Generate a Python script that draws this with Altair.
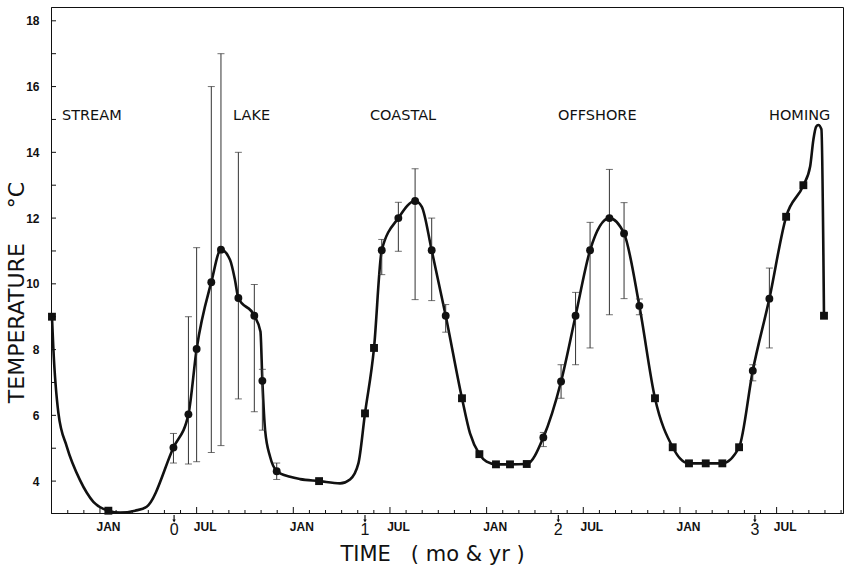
import altair as alt
import pandas as pd

# ---- data -------------------------------------------------------------
# Time axis in months, 0 = start of the first January.
obs_month = [-2.98, 0.52, 4.56, 5.49, 6.00, 6.91, 7.51, 8.59, 9.58, 10.08, 10.97,
             13.60, 16.45, 17.01, 17.49, 18.52, 19.56, 20.59, 21.46, 22.47, 23.55,
             24.58, 25.45, 26.49, 27.52, 28.62, 29.52, 30.42, 31.62, 32.53, 33.48,
             34.45, 35.55, 36.56, 37.60, 38.63, 39.67, 40.52, 41.55, 42.59, 43.66, 44.94]
obs_temp = [9.0, 3.1, 5.02, 6.03, 8.02, 10.05, 11.04, 9.57, 9.03, 7.05, 4.3,
            4.0, 6.06, 8.05, 11.02, 12.0, 12.52, 11.02, 9.03, 6.52, 4.82,
            4.51, 4.51, 4.52, 5.33, 7.03, 9.03, 11.02, 12.0, 11.53, 9.33,
            6.52, 5.03, 4.54, 4.54, 4.54, 5.03, 7.36, 9.55, 12.04, 13.0, 9.03]
obs_marker = ["square", "square", "circle", "circle", "circle", "circle", "circle",
              "circle", "circle", "circle", "circle", "square", "square", "square",
              "circle", "circle", "circle", "circle", "circle", "square", "square",
              "square", "square", "square", "circle", "circle", "circle", "circle",
              "circle", "circle", "circle", "square", "square", "square", "square",
              "square", "square", "circle", "circle", "square", "square", "square"]

# Range bars (min / max temperature) for the sampling dates that have them
bar_month = [4.56, 5.49, 6.00, 6.91, 7.51, 8.59, 9.58, 10.08, 10.97,
             17.49, 18.52, 19.56, 20.59, 21.46,
             27.52, 28.62, 29.52, 30.42, 31.62, 32.53, 33.48,
             40.52, 41.55]
bar_low = [4.55, 4.52, 4.59, 4.87, 5.08, 6.5, 6.11, 5.55, 4.05,
           10.28, 10.99, 9.52, 9.49, 8.53,
           5.05, 6.52, 7.54, 8.05, 9.06, 9.55, 9.06,
           7.05, 8.05]
bar_high = [5.45, 9.0, 11.1, 16.0, 17.0, 14.0, 9.98, 7.4, 4.55,
            11.35, 12.48, 13.5, 12.0, 9.37,
            5.48, 7.54, 9.74, 11.87, 13.48, 12.47, 9.54,
            7.54, 10.48]

# Hand-drawn curve through the means
curve_month = [-2.98, -2.9, -2.58, -2.06, -1.24, -0.41, 0.52, 1.25, 2.18, 2.9,
               4.56, 5.49, 6.0, 6.91, 7.51, 8.07, 8.38, 8.59, 9.58, 9.96,
               10.08, 10.25, 10.56, 10.97, 11.8, 12.42, 13.6, 14.9, 15.52, 16.04,
               16.45, 17.01, 17.49, 18.52, 19.56, 19.97, 20.59, 21.46, 22.47, 22.97,
               23.55, 24.0, 24.58, 25.45, 26.49, 27.52, 28.62, 29.52, 30.42, 31.62,
               32.53, 33.48, 34.45, 35.55, 36.0, 36.56, 37.6, 38.63, 39.67, 40.52,
               41.55, 42.59, 43.66, 44.08, 44.28, 44.45, 44.59, 44.78, 44.94]
curve_temp = [9.0, 8.1, 6.07, 5.05, 4.03, 3.37, 3.1, 3.04, 3.1, 3.22,
              5.02, 6.03, 8.02, 10.05, 11.04, 10.73, 10.12, 9.57, 9.03, 8.55,
              7.05, 5.55, 4.74, 4.31, 4.13, 4.06, 4.0, 3.93, 4.05, 4.54,
              6.06, 8.05, 11.02, 12.0, 12.52, 12.35, 11.02, 9.03, 6.52, 5.45,
              4.82, 4.59, 4.51, 4.51, 4.52, 5.33, 7.03, 9.03, 11.02, 12.0,
              11.53, 9.33, 6.52, 5.03, 4.69, 4.54, 4.54, 4.54, 5.03, 7.36,
              9.55, 12.04, 13.0, 13.57, 14.38, 14.78, 14.83, 14.7, 9.03]

# Life-history stages
stage_name = ["STREAM", "LAKE", "COASTAL", "OFFSHORE", "HOMING"]
stage_month = [-2.36, 8.26, 16.76, 28.43, 41.53]
stage_temp = [15.1, 15.1, 15.1, 15.1, 15.1]

# Axis annotations
month_label_pos = [0.5, 6.5, 12.5, 18.5, 24.5, 30.5, 36.5, 42.5]
half_year_ticks = [0, 6, 12, 18, 24, 30, 36, 42]
month_ticks = [m for m in range(-2, 47) if m % 6 != 0]
year_month = [4.6, 16.45, 28.45, 40.65]
year_label = ["0", "1", "2", "3"]
temp_ticks = [4, 6, 8, 10, 12, 14, 16, 18]
temp_minor = list(range(4, 19))

X_DOMAIN = [-3.04, 46.12]
Y_DOMAIN = [3.03, 18.42]
W, H = 792, 506
INK = "#111111"

obs = pd.DataFrame({"month": obs_month, "temp": obs_temp, "marker": obs_marker})
bars = pd.DataFrame({"month": bar_month, "low": bar_low, "high": bar_high})
curve = pd.DataFrame({"month": curve_month, "temp": curve_temp})
stages = pd.DataFrame({"name": stage_name, "month": stage_month, "temp": stage_temp})
years = pd.DataFrame({"month": year_month, "label": year_label})

xs = alt.Scale(domain=X_DOMAIN, nice=False, zero=False)
ys = alt.Scale(domain=Y_DOMAIN, nice=False, zero=False)

x_axis = alt.Axis(
    values=month_label_pos,
    labelExpr="datum.value % 12 < 1 ? 'JAN' : 'JUL'",
    ticks=False, grid=False, domain=True, domainColor=INK, domainWidth=1,
    labelFont="Liberation Sans", labelFontWeight="bold", labelFontSize=12,
    labelColor=INK, labelPadding=8, labelAngle=0,
    title="TIME\u00a0\u00a0\u00a0(\u00a0mo & yr\u00a0)",
    titleFont="DejaVu Sans", titleFontSize=21, titleFontWeight="normal",
    titleColor=INK, titleX=381, titleY=47, titleAlign="center",
    titleBaseline="alphabetic",
)
y_axis = alt.Axis(
    values=temp_ticks, ticks=False, grid=False, domain=True,
    domainColor=INK, domainWidth=1,
    labelFont="Liberation Sans", labelFontWeight="bold", labelFontSize=12,
    labelColor=INK, labelPadding=12,
    title="TEMPERATURE\u00a0\u00a0\u00a0\u00a0\u00a0°C",
    titleFont="DejaVu Sans", titleFontSize=22, titleFontWeight="normal",
    titleColor=INK, titleX=-35, titleY=285, titleAngle=-90,
    titleAlign="center", titleBaseline="middle",
)

line = alt.Chart(curve).mark_line(
    interpolate="monotone", color=INK, strokeWidth=2.6
).encode(
    x=alt.X("month:Q", scale=xs, axis=x_axis),
    y=alt.Y("temp:Q", scale=ys, axis=y_axis),
)

bar_rules = alt.Chart(bars).mark_rule(color="#333333", strokeWidth=1).encode(
    x=alt.X("month:Q"),
    y=alt.Y("low:Q"),
    y2="high:Q",
)
cap_low = alt.Chart(bars).mark_tick(
    orient="horizontal", color="#333333", size=7, thickness=1
).encode(x=alt.X("month:Q"), y=alt.Y("low:Q"))
cap_high = alt.Chart(bars).mark_tick(
    orient="horizontal", color="#333333", size=7, thickness=1
).encode(x=alt.X("month:Q"), y=alt.Y("high:Q"))

points = alt.Chart(obs).mark_point(
    filled=True, color=INK, opacity=1, size=62
).encode(
    x=alt.X("month:Q"),
    y=alt.Y("temp:Q"),
    shape=alt.Shape("marker:N", legend=None,
                    scale=alt.Scale(domain=["circle", "square"],
                                    range=["circle", "square"])),
)

stage_text = alt.Chart(stages).mark_text(
    align="left", baseline="middle", font="DejaVu Sans", fontSize=14.5, color=INK
).encode(
    x=alt.X("month:Q"),
    y=alt.Y("temp:Q"),
    text="name:N",
)

# inward tick marks on the temperature axis
y_ticks = alt.Chart(pd.DataFrame({"t": temp_minor})).mark_rule(
    color=INK, strokeWidth=1
).encode(
    y=alt.Y("t:Q"),
    x=alt.value(0), x2=alt.value(5),
)

# inward monthly ticks on the time axis
x_ticks_short = alt.Chart(pd.DataFrame({"m": month_ticks})).mark_rule(
    color=INK, strokeWidth=1
).encode(
    x=alt.X("m:Q"),
    y=alt.value(H), y2=alt.value(H - 3),
)
x_ticks_long = alt.Chart(pd.DataFrame({"m": half_year_ticks})).mark_rule(
    color=INK, strokeWidth=1
).encode(
    x=alt.X("m:Q"),
    y=alt.value(H), y2=alt.value(H - 6),
)

# year markers below the axis
year_stem = alt.Chart(years).mark_rule(color=INK, strokeWidth=1.2).encode(
    x=alt.X("month:Q"),
    y=alt.value(H + 2), y2=alt.value(H + 7),
)
year_head = alt.Chart(years).mark_point(
    shape="triangle-down", filled=True, color=INK, size=12, opacity=1
).encode(
    x=alt.X("month:Q"),
    y=alt.value(H + 8),
)
year_text = alt.Chart(years).mark_text(
    baseline="middle", align="center", font="Liberation Sans", fontSize=16, color=INK
).encode(
    x=alt.X("month:Q"),
    y=alt.value(H + 17),
    text="label:N",
)

chart = alt.layer(
    line, bar_rules, cap_low, cap_high, points, stage_text,
    y_ticks, x_ticks_short, x_ticks_long, year_stem, year_head, year_text,
).properties(
    width=W, height=H,
    padding={"left": 51, "top": 7, "right": 2, "bottom": 52},
    autosize=alt.AutoSizeParams(type="none"),
    background="white",
).configure_view(stroke=INK, strokeWidth=1)

chart.save("out.html", embed_options={"renderer": "svg", "actions": False})
